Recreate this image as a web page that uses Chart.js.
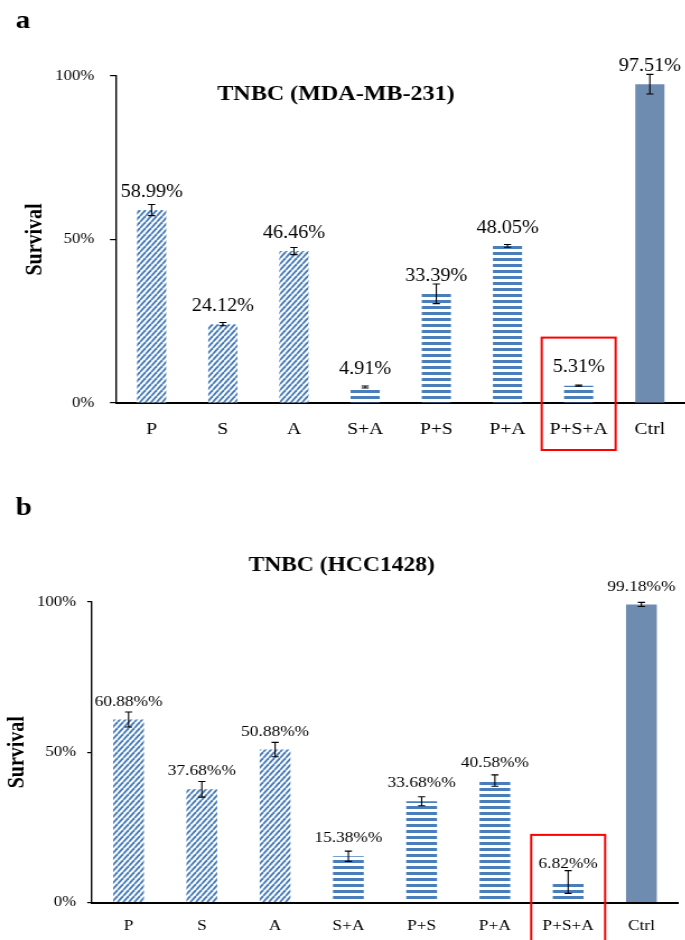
<!DOCTYPE html>
<html>
<head>
<meta charset="utf-8">
<script src="https://cdn.jsdelivr.net/npm/chart.js@4.4.0/dist/chart.umd.min.js"></script>
<style>
  html, body { margin: 0; padding: 0; background: #fff; overflow: hidden; }
  .panel { width: 685px; height: 470px; position: relative; overflow: hidden; }
  /* the figure is a little stretched sideways, so draw narrower and widen the canvas */
  .panel canvas { display: block; transform: scaleX(1.12); transform-origin: 0 0; }
</style>
</head>
<body>
<div class="panel"><canvas id="chartA" width="612" height="470"></canvas></div>
<div class="panel"><canvas id="chartB" width="612" height="470"></canvas></div>
<script>
const categories = ['P', 'S', 'A', 'S+A', 'P+S', 'P+A', 'P+S+A', 'Ctrl'];
const survivalA = [58.99, 24.12, 46.46, 4.91, 33.39, 48.05, 5.31, 97.51];
const errorA = [1.7, 0.5, 1.1, 0.3, 3.0, 0.4, 0.2, 3.0];
const survivalB = [60.88, 37.68, 50.88, 15.38, 33.68, 40.58, 6.82, 99.18];
const errorB = [2.5, 2.6, 2.4, 1.7, 1.5, 1.9, 3.8, 0.7];
const yTicks = [0, 50, 100];
const fillKinds = ['diag', 'diag', 'diag', 'horiz', 'horiz', 'horiz', 'horiz', 'solid'];

const SERIF = '"Liberation Serif", "Times New Roman", serif';
const BLUE = '#4a7ebb';
Chart.defaults.font.family = SERIF;
Chart.defaults.color = '#000';

function makeFill(kind) {
    if (kind === 'solid') return '#6e8bb0';
    const c = document.createElement('canvas');
    const g = c.getContext('2d');
    if (kind === 'diag') {
        c.width = 5; c.height = 6;
        g.fillStyle = '#fff';
        g.fillRect(0, 0, 5, 6);
        g.strokeStyle = BLUE;
        g.lineWidth = 1.9;
        for (let k = -1; k <= 1; k++) {
            g.beginPath();
            g.moveTo(k * 5, 6);
            g.lineTo((k + 1) * 5, 0);
            g.stroke();
        }
    } else {
        c.width = 2; c.height = 6;
        g.fillStyle = '#fff';
        g.fillRect(0, 0, 2, 6);
        g.fillStyle = BLUE;
        g.fillRect(0, 0, 2, 3);
    }
    return g.createPattern(c, 'repeat');
}

// error bars, value labels, red box, panel letter and title
const overlay = {
    id: 'overlay',
    afterDatasetsDraw(chart, args, opts) {
        const ctx = chart.ctx;
        const y = chart.scales.y;
        const bars = chart.getDatasetMeta(0).data;
        ctx.save();
        bars.forEach((bar, i) => {
            const v = opts.values[i], e = opts.errors[i];
            const yt = y.getPixelForValue(v + e), yb = y.getPixelForValue(v - e);
            ctx.strokeStyle = '#000';
            ctx.lineWidth = 1.1;
            ctx.beginPath();
            ctx.moveTo(bar.x, yt); ctx.lineTo(bar.x, yb);
            ctx.moveTo(bar.x - 3.2, yt); ctx.lineTo(bar.x + 3.2, yt);
            ctx.moveTo(bar.x - 3.2, yb); ctx.lineTo(bar.x + 3.2, yb);
            ctx.stroke();
            ctx.fillStyle = '#000';
            ctx.font = opts.labelSize + 'px ' + SERIF;
            ctx.textAlign = 'center';
            ctx.textBaseline = 'middle';
            ctx.fillText(v.toFixed(2) + opts.suffix, bar.x, bar.y - 18);
        });

        const bx = chart.scales.x.getPixelForValue(opts.boxIndex);
        const top = y.getPixelForValue(opts.boxTop);
        ctx.strokeStyle = '#ff0000';
        ctx.lineWidth = 2;
        ctx.strokeRect(bx - 33, top, 66, chart.chartArea.bottom + opts.boxBelow - top);

        ctx.fillStyle = '#000';
        ctx.textAlign = 'left';
        ctx.textBaseline = 'alphabetic';
        ctx.font = 'bold 26px ' + SERIF;
        ctx.fillText(opts.letter, 14, opts.letterY);
        ctx.textAlign = 'center';
        ctx.font = 'bold ' + opts.titleSize + 'px ' + SERIF;
        ctx.fillText(opts.title, opts.titleX, opts.titleY);
        ctx.restore();
    }
};

function buildChart(id, values, errors, look) {
    return new Chart(document.getElementById(id), {
        type: 'bar',
        data: {
            labels: categories,
            datasets: [{
                data: values,
                backgroundColor: fillKinds.map(makeFill),
                borderWidth: 0,
                barPercentage: look.barPct,
                categoryPercentage: 1
            }]
        },
        options: {
            responsive: false,
            animation: false,
            layout: { padding: look.padding },
            plugins: {
                legend: { display: false },
                tooltip: { enabled: false },
                overlay: {
                    values: values, errors: errors, suffix: look.suffix, labelSize: look.labelSize,
                    boxIndex: 6, boxTop: look.boxTop, boxBelow: look.boxBelow,
                    letter: look.letter, letterY: look.letterY,
                    title: look.title, titleX: look.titleX, titleY: look.titleY, titleSize: look.titleSize
                }
            },
            scales: {
                x: {
                    grid: { display: false },
                    border: { color: '#000', width: 2 },
                    ticks: { color: '#000', font: { size: look.catSize }, padding: look.xPad, maxRotation: 0, autoSkip: false },
                    afterFit: s => { s.height = look.xHeight; }
                },
                y: {
                    min: 0,
                    max: 100,
                    afterBuildTicks: s => { s.ticks = yTicks.map(v => ({ value: v })); },
                    ticks: { color: '#000', font: { size: 15 }, padding: look.yPad, callback: v => v + '%' },
                    grid: { drawOnChartArea: false, color: '#000', tickLength: look.tickLen, lineWidth: 1.2 },
                    border: { color: '#000', width: 1.4 },
                    title: {
                        display: true, text: 'Survival', color: '#000',
                        font: { size: 20, weight: 'bold' },
                        padding: { top: look.yTitlePad, bottom: 0 }
                    },
                    afterFit: s => { s.width = look.yWidth; }
                }
            }
        },
        plugins: [overlay]
    });
}

function myLoadFunction() {
    buildChart('chartA', survivalA, errorA, {
        suffix: '%', labelSize: 18, catSize: 17.5, letter: 'a', letterY: 28,
        title: 'TNBC (MDA-MB-231)', titleX: 300, titleY: 100, titleSize: 21.5,
        padding: { top: 76, left: 0, right: 0, bottom: 22 },
        xHeight: 45, xPad: 8, yWidth: 103.6, yPad: 14, tickLen: 5.4, yTitlePad: 20,
        barPct: 0.41, boxTop: 20, boxBelow: 47
    });
    buildChart('chartB', survivalB, errorB, {
        suffix: '%%', labelSize: 15.5, catSize: 15.5, letter: 'b', letterY: 45,
        title: 'TNBC (HCC1428)', titleX: 305, titleY: 101, titleSize: 21,
        padding: { top: 132, left: 0, right: 6.6, bottom: 0.5 },
        xHeight: 37, xPad: 6, yWidth: 82.1, yPad: 10, tickLen: 4.2, yTitlePad: 4.3,
        barPct: 0.42, boxTop: 22.5, boxBelow: 60
    });
}

document.addEventListener('DOMContentLoaded', myLoadFunction);
</script>
</body>
</html>
